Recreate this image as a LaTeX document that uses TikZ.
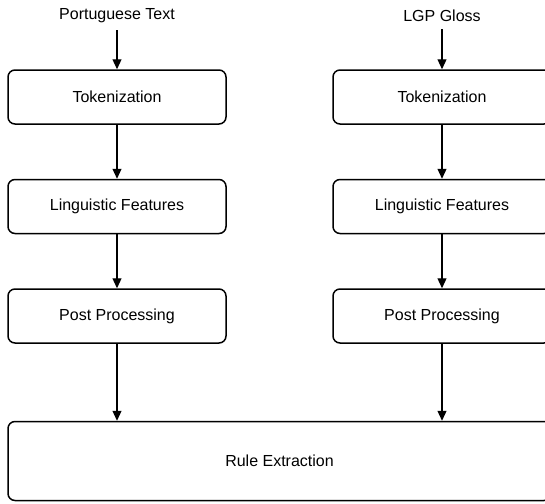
\documentclass[tikz,border=0pt]{standalone}
\usepackage{fontspec}
\setmainfont{Liberation Sans}
\usetikzlibrary{arrows.meta,positioning}

\begin{document}
\begin{tikzpicture}[x=1pt,y=-1pt,
  node distance=54pt,
  box/.style={draw,line width=1.5pt,rounded corners=7pt,minimum width=218pt,minimum height=54pt,font=\fontsize{16}{19}\selectfont},
  lbl/.style={font=\fontsize{16}{19}\selectfont,inner sep=7pt},
  arr/.style={-{Triangle[length=10pt,width=9pt]},line width=1.2pt}
]
\useasboundingbox (0,0) rectangle (545,503);
\clip (0,0) rectangle (545,503);
% two columns
\node[lbl] (ptext) at (117,16) {Portuguese Text};
\node[box] (tokA) at (117,97) {Tokenization};
\node[box,below=of tokA] (featA) {Linguistic Features};
\node[box,below=of featA] (postA) {Post Processing};
\node[lbl] (gloss) at (442,16) {LGP Gloss};
\node[box] (tokB) at (442,97) {Tokenization};
\node[box,below=of tokB] (featB) {Linguistic Features};
\node[box,below=of featB] (postB) {Post Processing};
\node[box,minimum width=543pt,minimum height=79pt] (rules) at (279.5,461) {Rule Extraction};
\draw[arr] (ptext) -- (tokA);
\draw[arr] (tokA) -- (featA);
\draw[arr] (featA) -- (postA);
\draw[arr] (postA) -- (postA |- rules.north);
\draw[arr] (gloss) -- (tokB);
\draw[arr] (tokB) -- (featB);
\draw[arr] (featB) -- (postB);
\draw[arr] (postB) -- (postB |- rules.north);
\end{tikzpicture}
\end{document}
